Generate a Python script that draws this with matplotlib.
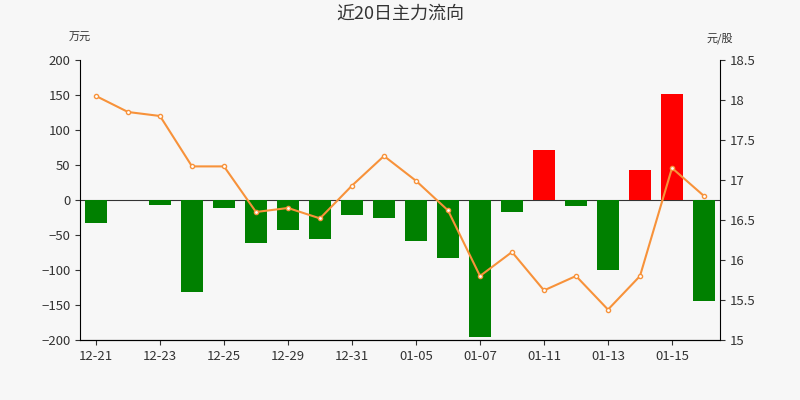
import matplotlib
matplotlib.use("Agg")
import matplotlib.pyplot as plt
plt.rcParams['font.family'] = ['Noto Sans CJK SC', 'DejaVu Sans']

dates = ["12-21","12-22","12-23","12-24","12-25","12-28","12-29","12-30","12-31","01-04",
         "01-05","01-06","01-07","01-08","01-11","01-12","01-13","01-14","01-15","01-18"]
flows = [-33, 0, -7, -132, -12, -62, -43, -56, -21, -26, -59, -83, -195, -17, 72, -9, -100, 43, 152, -144]
prices = [18.05, 17.85, 17.8, 17.17, 17.17, 16.6, 16.65, 16.52, 16.93, 17.3,
          16.99, 16.62, 15.8, 16.1, 15.62, 15.8, 15.38, 15.8, 17.15, 16.8]

fig = plt.figure(figsize=(8, 4), dpi=100, facecolor='#f7f7f7')
ax = fig.add_axes([0.1, 0.15, 0.8, 0.7], facecolor='#f7f7f7')
x = list(range(len(dates)))
colors = ['#ff0000' if v > 0 else '#008000' for v in flows]
ax.bar(x, flows, width=0.7, color=colors, zorder=2)
ax.axhline(0, color='#333333', lw=0.8, zorder=1)
ax.set_ylim(-200, 200)
ax.set_yticks(range(-200, 201, 50))
ax.set_xlim(-0.5, len(dates) - 0.5)
ax.set_xticks(x[::2])
ax.set_xticklabels(dates[::2])
for s in ['top', 'right']:
    ax.spines[s].set_visible(False)
ax.tick_params(labelsize=9.5, colors='#333333')

ax2 = ax.twinx()
ax2.plot(x, prices, color='#f7923a', lw=1.5, marker='o', ms=3,
         markerfacecolor='white', markeredgecolor='#f7923a', zorder=3)
ax2.set_ylim(15, 18.5)
ax2.set_yticks([15, 15.5, 16, 16.5, 17, 17.5, 18, 18.5])
ax2.set_yticklabels(['15', '15.5', '16', '16.5', '17', '17.5', '18', '18.5'])
ax2.tick_params(labelsize=9.5, colors='#333333')
for s in ['top', 'left']:
    ax2.spines[s].set_visible(False)

fig.text(0.5, 0.965, '近20日主力流向', ha='center', va='center', fontsize=13, color='#333333')
fig.text(0.1, 0.905, '万元', ha='center', va='center', fontsize=8, color='#333333')
fig.text(0.9, 0.905, '元/股', ha='center', va='center', fontsize=8, color='#333333')
fig.savefig('out.png', dpi=100, facecolor=fig.get_facecolor())
